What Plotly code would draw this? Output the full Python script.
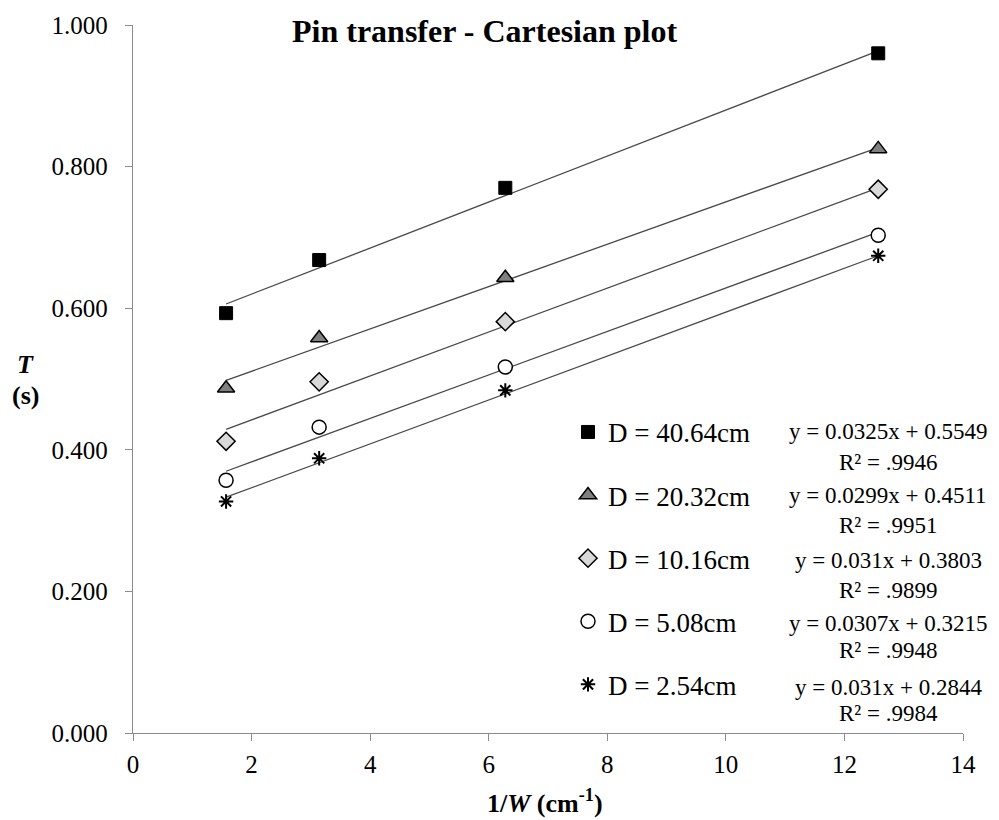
import plotly.graph_objects as go

# ---- data ----
inv_w = [1.57, 3.14, 6.28, 12.57]
series_names = ["D = 40.64cm", "D = 20.32cm", "D = 10.16cm", "D = 5.08cm", "D = 2.54cm"]
t_40 = [0.593, 0.668, 0.770, 0.960]
t_20 = [0.487, 0.558, 0.643, 0.825]
t_10 = [0.412, 0.496, 0.581, 0.768]
t_5 = [0.357, 0.432, 0.517, 0.703]
t_2 = [0.327, 0.388, 0.484, 0.674]
slopes = [0.0325, 0.0299, 0.031, 0.0307, 0.031]
intercepts = [0.5549, 0.4511, 0.3803, 0.3215, 0.2844]
r2 = [0.9946, 0.9951, 0.9899, 0.9948, 0.9984]
x_ticks = [0, 2, 4, 6, 8, 10, 12, 14]
y_ticks = [0.0, 0.2, 0.4, 0.6, 0.8, 1.0]

series_values = [t_40, t_20, t_10, t_5, t_2]

# ---- styles ----
FONT = "Liberation Serif, Times New Roman, serif"
styles = [
    dict(symbol="square", size=13, color="#000000", line=dict(color="#000000", width=1)),
    dict(symbol="triangle-up", size=15, color="#808080", line=dict(color="#000000", width=1.5)),
    dict(symbol="diamond", size=14, color="#d9d9d9", line=dict(color="#000000", width=1.5)),
    dict(symbol="circle", size=14, color="#ffffff", line=dict(color="#000000", width=1.5)),
    dict(symbol="asterisk-open", size=12, color="#000000", line=dict(color="#000000", width=2)),
]

fig = go.Figure()

xmin, xmax = min(inv_w), max(inv_w)
for i, (name, vals) in enumerate(zip(series_names, series_values)):
    # trendline
    fig.add_trace(go.Scatter(
        x=[xmin, xmax],
        y=[slopes[i] * xmin + intercepts[i], slopes[i] * xmax + intercepts[i]],
        mode="lines", line=dict(color="#4a4a4a", width=1.3),
        showlegend=False, hoverinfo="skip"))
for i, (name, vals) in enumerate(zip(series_names, series_values)):
    fig.add_trace(go.Scatter(
        x=inv_w, y=vals, mode="markers", name=name,
        legendgroup=f"g{i}", marker=styles[i]))

axis_common = dict(
    showgrid=False, zeroline=False, showline=True, linecolor="#8c8c8c", linewidth=1.3,
    ticks="outside", ticklen=7, tickcolor="#8c8c8c", tickwidth=1.3,
    tickfont=dict(family=FONT, size=25, color="#000000"),
)
fig.update_xaxes(range=[0, 14], tickvals=x_ticks, ticklabelstandoff=2, **axis_common)
fig.update_yaxes(range=[0, 1.0], tickvals=y_ticks, tickformat=".3f", ticklabelstandoff=12, **axis_common)

# equation annotations
eq_y = [431, 495, 560, 623, 687]
r2_y = [462, 525, 590, 650, 713]
annotations = []
def py(yp):
    return (733 - yp) / 710
for i in range(5):
    annotations.append(dict(
        x=0.91, y=py(eq_y[i]), xref="paper", yref="paper",
        text=f"y = {slopes[i]}x + {intercepts[i]}", showarrow=False,
        font=dict(family=FONT, size=23, color="#000000"), xanchor="center", yanchor="middle"))
    annotations.append(dict(
        x=0.91, y=py(r2_y[i]), xref="paper", yref="paper",
        text="R² = " + f"{r2[i]:.4f}".lstrip("0"), showarrow=False,
        font=dict(family=FONT, size=23, color="#000000"), xanchor="center", yanchor="middle"))

# title
annotations.append(dict(
    x=(484 - 133) / 830, y=py(29), xref="paper", yref="paper",
    text="<b>Pin transfer - Cartesian plot</b>", showarrow=False,
    font=dict(family=FONT, size=32, color="#000000"), xanchor="center", yanchor="middle"))
# y title
annotations.append(dict(
    x=(25 - 133) / 830, y=py(363), xref="paper", yref="paper",
    text="<b><i>T</i></b>", showarrow=False,
    font=dict(family=FONT, size=26, color="#000000"), xanchor="center", yanchor="middle"))
annotations.append(dict(
    x=(25 - 133) / 830, y=py(395), xref="paper", yref="paper",
    text="<b>(s)</b>", showarrow=False,
    font=dict(family=FONT, size=26, color="#000000"), xanchor="center", yanchor="middle"))
# x title
annotations.append(dict(
    x=(545 - 133) / 830, y=py(802), xref="paper", yref="paper",
    text="<b>1/<i>W</i> (cm<sup>-1</sup>)</b>", showarrow=False,
    font=dict(family=FONT, size=26, color="#000000"), xanchor="center", yanchor="middle"))

fig.update_layout(
    width=999, height=820,
    margin=dict(l=133, r=36, t=23, b=87),
    paper_bgcolor="#ffffff", plot_bgcolor="#ffffff",
    annotations=annotations,
    showlegend=True,
    legend=dict(x=(568 - 133) / 830, y=py(407), xanchor="left", yanchor="top",
                font=dict(family=FONT, size=27, color="#000000"),
                tracegroupgap=25, bgcolor="rgba(0,0,0,0)", itemwidth=30),
)

fig.write_html("out.html", config={"displayModeBar": False},
               post_script="document.body.style.margin='0';")
